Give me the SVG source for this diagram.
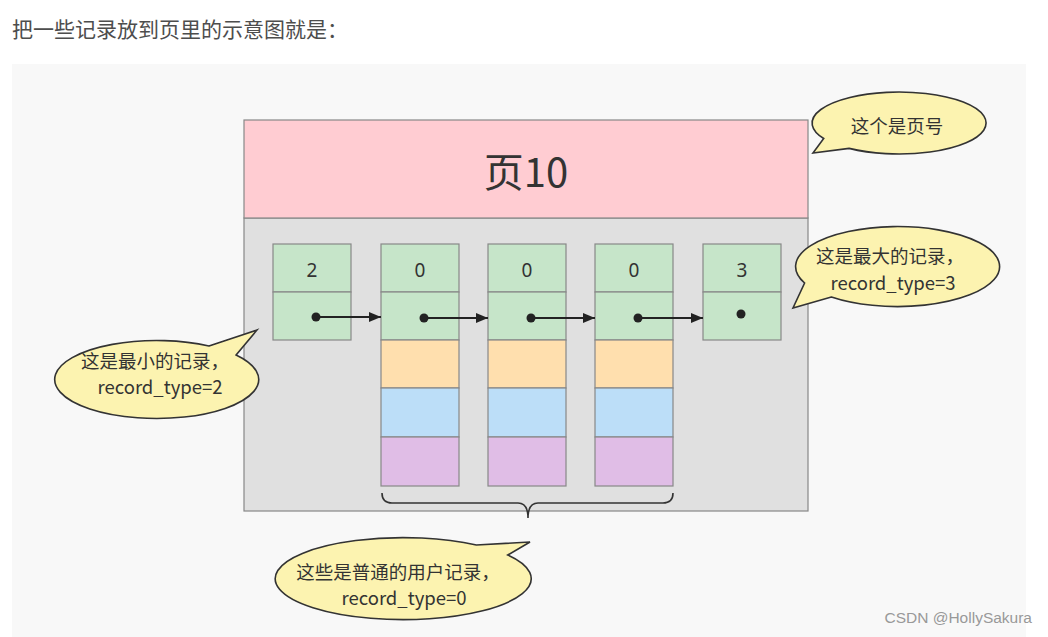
<svg xmlns="http://www.w3.org/2000/svg" width="1048" height="637" viewBox="0 0 1048 637">
<defs>
<style>
.cell{stroke:#888;stroke-width:1.2}
.g{fill:#c6e5c9}
.o{fill:#ffdfae}
.b{fill:#bcdef8}
.p{fill:#e0bde6}
.num{font-family:"Noto Sans","Noto Sans CJK SC",sans-serif;font-size:19px;fill:#333;text-anchor:middle}
.bub{fill:#fcf3b0;stroke:#333;stroke-width:1.6;stroke-linejoin:miter}
.bt{font-family:"Noto Sans CJK SC","Noto Sans",sans-serif;font-size:18.5px;fill:#333;text-anchor:middle}
.link{stroke:#222;stroke-width:2;fill:none}
</style>
<marker id="ah" markerWidth="12" markerHeight="10" refX="12" refY="5" orient="auto" markerUnits="userSpaceOnUse">
<path d="M0,0 L12,5 L0,10 Z" fill="#222"/>
</marker>
</defs>
<rect width="1048" height="637" fill="#ffffff"/>
<text x="12" y="37" font-family="Noto Sans CJK SC,sans-serif" font-size="21" fill="#4d4d4d">把一些记录放到页里的示意图就是：</text>
<rect x="12" y="64" width="1014" height="573" fill="#f8f8f8"/>

<g id="page">
<rect x="244" y="218" width="564" height="293" fill="#e0e0e0" stroke="#888" stroke-width="1.2"/>
<rect x="244" y="120" width="564" height="98" fill="#ffccd2" stroke="#888" stroke-width="1.2"/>
<text x="526" y="187" font-family="Noto Sans CJK SC,sans-serif" font-size="40" fill="#333" text-anchor="middle">页10</text>
</g>

<g id="rec-min">
<rect class="cell g" x="273" y="244" width="78" height="48"/>
<rect class="cell g" x="273" y="292" width="78" height="48"/>
<text class="num" x="312" y="277">2</text>
</g>
<g id="rec-1">
<rect class="cell g" x="381" y="244" width="78" height="48"/>
<rect class="cell g" x="381" y="292" width="78" height="48"/>
<rect class="cell o" x="381" y="340" width="78" height="48"/>
<rect class="cell b" x="381" y="388" width="78" height="49"/>
<rect class="cell p" x="381" y="437" width="78" height="49"/>
<text class="num" x="420" y="277">0</text>
</g>
<g id="rec-2">
<rect class="cell g" x="488" y="244" width="78" height="48"/>
<rect class="cell g" x="488" y="292" width="78" height="48"/>
<rect class="cell o" x="488" y="340" width="78" height="48"/>
<rect class="cell b" x="488" y="388" width="78" height="49"/>
<rect class="cell p" x="488" y="437" width="78" height="49"/>
<text class="num" x="527" y="277">0</text>
</g>
<g id="rec-3">
<rect class="cell g" x="595" y="244" width="78" height="48"/>
<rect class="cell g" x="595" y="292" width="78" height="48"/>
<rect class="cell o" x="595" y="340" width="78" height="48"/>
<rect class="cell b" x="595" y="388" width="78" height="49"/>
<rect class="cell p" x="595" y="437" width="78" height="49"/>
<text class="num" x="634" y="277">0</text>
</g>
<g id="rec-max">
<rect class="cell g" x="703" y="244" width="78" height="48"/>
<rect class="cell g" x="703" y="292" width="78" height="48"/>
<text class="num" x="742" y="277">3</text>
<circle cx="741" cy="314" r="4.5" fill="#222"/>
</g>

<g id="connectors">
<circle cx="316" cy="317" r="4.5" fill="#222"/>
<line class="link" x1="316" y1="317" x2="381" y2="317" marker-end="url(#ah)"/>
<circle cx="424" cy="318" r="4.5" fill="#222"/>
<line class="link" x1="424" y1="318" x2="488" y2="318" marker-end="url(#ah)"/>
<circle cx="531" cy="318" r="4.5" fill="#222"/>
<line class="link" x1="531" y1="318" x2="595" y2="318" marker-end="url(#ah)"/>
<circle cx="638" cy="318" r="4.5" fill="#222"/>
<line class="link" x1="638" y1="318" x2="703" y2="318" marker-end="url(#ah)"/>
<path d="M382,493 Q382,503 392,503 L518,503 Q528,503 528,518 Q528,503 538,503 L663,503 Q673,503 673,493" fill="none" stroke="#333" stroke-width="1.6"/>
</g>

<g id="callout-page">
<path class="bub" d="M849.1,148.4 L813,153 L823.7,138.5 A87,31 0 1 1 849.1,148.4 Z"/>
<text class="bt" x="897" y="133">这个是页号</text>
</g>
<g id="callout-max">
<path class="bub" d="M831.4,297 L793,308 L804.6,283 A102,40 0 1 1 831.4,297 Z"/>
<text class="bt" x="890" y="263">这是最大的记录，</text>
<text class="bt" x="893" y="290">record_type=3</text>
</g>
<g id="callout-min">
<path class="bub" d="M209,346 L257,330 L236.1,355 A102,39 0 1 1 209,346 Z"/>
<text class="bt" x="155" y="368">这是最小的记录，</text>
<text class="bt" x="160" y="394">record_type=2</text>
</g>
<g id="callout-user">
<path class="bub" d="M476.4,545 L530,542 L507.8,555 A128,41 0 1 1 476.4,545 Z"/>
<text class="bt" x="398" y="579">这些是普通的用户记录，</text>
<text class="bt" x="404" y="605">record_type=0</text>
</g>

<text x="1032" y="623" font-family="Liberation Sans,Arial,sans-serif" font-size="15.5" fill="#999" text-anchor="end">CSDN @HollySakura</text>
</svg>
